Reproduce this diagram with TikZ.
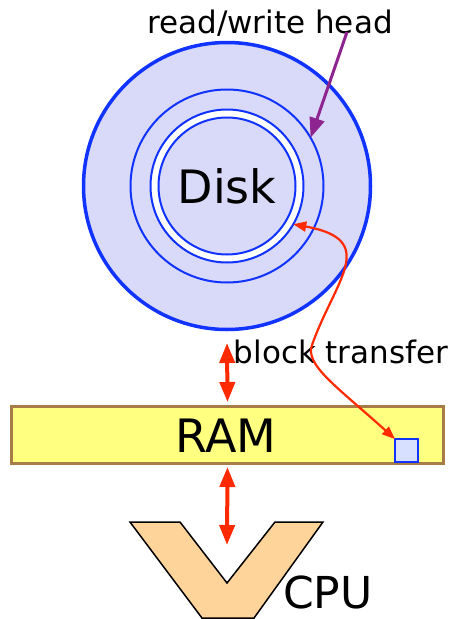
\documentclass[tikz,border=0pt]{standalone}
\usepackage{fontspec}
\setmainfont{DejaVu Sans}
\usetikzlibrary{arrows.meta}
\usetikzlibrary{positioning}
\definecolor{iodiskfill}{HTML}{D9D9FA}
\definecolor{ioblue}{HTML}{1133FF}
\definecolor{iored}{HTML}{FF2A00}
\definecolor{iopurple}{HTML}{8E2490}
\definecolor{iobrown}{HTML}{A87C46}
\definecolor{ioyellow}{HTML}{FFFF80}
\definecolor{iocellfill}{HTML}{D8E0FF}
\definecolor{iocpufill}{HTML}{FFD49A}
\tikzset{
  iotrack/.style={
    circle, draw=ioblue, line width=2pt, inner sep=0pt, outer sep=0pt},
  iolabel/.style={font=\fontsize{31}{36}\selectfont, text=black, inner sep=0pt},
  iobig/.style={font=\fontsize{46}{52}\selectfont, text=black, inner sep=0pt},
  iobus/.style={
    {Triangle[length=20pt, width=15pt]}-{Triangle[length=20pt, width=15pt]},
    draw=iored, line width=4pt},
  iotransfer/.style={
    {Triangle[length=13pt, width=10pt]}-{Triangle[length=13pt, width=10pt]},
    draw=iored, line width=2.2pt},
  iohead/.style={-{Triangle[length=20pt, width=15pt]}, draw=iopurple,
    line width=3pt},
  iocpu/.style={draw=black, fill=iocpufill, line width=1.5pt,
    line join=miter},
}

\begin{document}
\begin{tikzpicture}[x=1pt, y=-1pt]
\useasboundingbox (0,0) rectangle (451,619);

% Disk platter with its tracks.
\node[iotrack, line width=3.5pt, fill=iodiskfill, minimum size=287pt]
  (disk) at (227,186) {};
\node[iotrack, minimum size=193pt] (track2) at (disk.center) {};
\node[iotrack, fill=white, minimum size=153pt] (track3) at (disk.center) {};
\node[iotrack, fill=iodiskfill, minimum size=137pt] (track4)
  at (disk.center) {};
\node[iobig] (disklabel) at (disk.center) {Disk};

% Head label and pointer.
\node[iolabel, anchor=base] (rwlabel) at (270,33) {read/write head};
\coordinate (headtop) at (347,32);
\draw[iohead] (headtop) -- (track2.30);

% Main memory with one cached block.
\node[draw=iobrown, fill=ioyellow, line width=3pt, minimum width=432pt,
      minimum height=57pt, inner sep=0pt, outer sep=0pt] (ram)
  at (227.5,435) {};
\node[iobig] (ramlabel) at (226,436) {RAM};
\node[draw=ioblue, fill=iocellfill, line width=2.5pt, minimum size=23pt,
      inner sep=0pt, outer sep=0pt] (cell) at (406.5,450.5) {};

% Processor.
\draw[iocpu] (130,522) -- (180,522) -- (227,583) -- (275,522)
  -- (323,522) -- (254,618) -- (202,618) -- cycle;
\node[iobig, font=\fontsize{44}{50}\selectfont, anchor=base west]
  (cpulabel) at (283,608) {CPU};
\coordinate (cpugap) at (227,545);

% Transfers between the levels.
\node[iolabel, anchor=base] (translabel) at (341,363) {block transfer};
\draw[iobus] ([yshift=-13.5pt]disk.south) -- ([yshift=4.5pt]ram.north);
\draw[iobus] ([yshift=-3.5pt]ram.south) -- (cpugap);
\draw[iotransfer] (track3.-30) .. controls (380,240) and (335,280) .. (312,345)
  .. controls (305,365) and (335,385) .. (cell.north west);

\end{tikzpicture}
\end{document}
